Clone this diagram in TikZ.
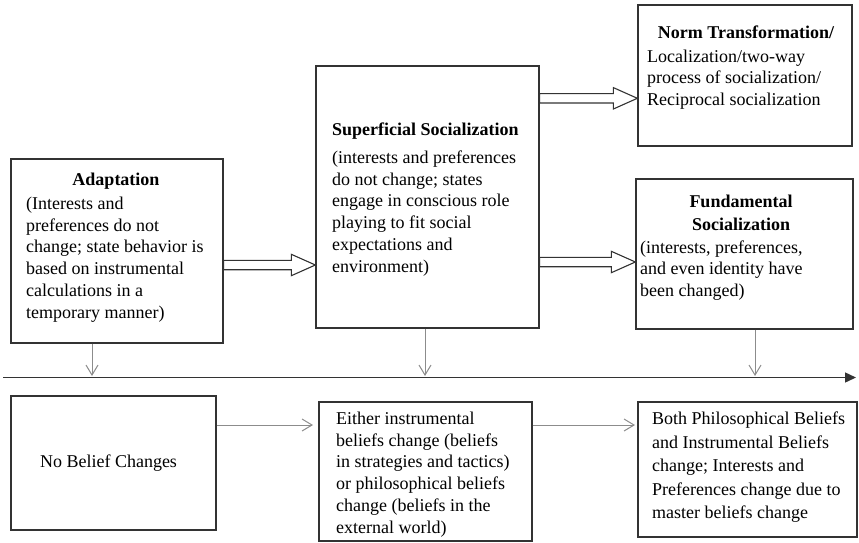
\documentclass[tikz,border=0pt]{standalone}
\usepackage{fontspec}
\setmainfont{Liberation Serif}
\usetikzlibrary{arrows.meta,calc}
\definecolor{boxc}{HTML}{333333}
\definecolor{grayc}{HTML}{8C8C8C}
\begin{document}
\begin{tikzpicture}[x=1pt,y=-1pt,
  box/.style={draw=boxc, line width=1.3pt, rectangle, inner sep=0pt},
  txt/.style={font=\fontsize{18}{21.7}\selectfont, inner sep=0pt, align=left, anchor=base west},
  ttl/.style={font=\fontsize{18}{23}\selectfont\bfseries, inner sep=0pt, align=center, anchor=base},
  grayarrow/.style={draw=grayc, line width=1pt, -{Straight Barb[length=10pt,width=12pt]}},
  timeline/.style={draw=boxc, line width=1.4pt, -{Triangle[length=11pt,width=10pt]}},
  hollow/.style={draw=boxc, line width=1.1pt, line join=miter, to path={
    ($(\tikztostart)+(0,4.7pt)$) -- ($(\tikztotarget)+(-24pt,4.7pt)$) -- ($(\tikztotarget)+(-24pt,10.7pt)$) -- (\tikztotarget) -- ($(\tikztotarget)+(-24pt,-10.7pt)$) -- ($(\tikztotarget)+(-24pt,-4.7pt)$) -- ($(\tikztostart)+(0,-4.7pt)$) -- cycle}}
]
\useasboundingbox (0,0) rectangle (859,542);

% upper boxes
\node[box, minimum width=212pt, minimum height=184pt] (adapt) at (117,251) {};
\node[box, minimum width=223pt, minimum height=262pt] (sup) at (427.5,197) {};
\node[box, minimum width=214pt, minimum height=141pt] (norm) at (745,75.5) {};
\node[box, minimum width=217pt, minimum height=150pt] (fund) at (744.5,254) {};

% lower boxes
\node[box, minimum width=205pt, minimum height=134pt] (nobel) at (113.5,463) {};
\node[box, minimum width=213pt, minimum height=139pt] (either) at (425.5,471.5) {};
\node[box, minimum width=219pt, minimum height=135pt] (both) at (747.5,469.5) {};

% texts (base anchor = baseline of the last line)
\node[ttl] (adaptT) at (116,185) {Adaptation};
\node[txt] (adaptB) at (26,318) {(Interests and\\preferences do not\\change; state behavior is\\based on instrumental\\calculations in a\\temporary manner)};

\node[ttl, anchor=base west] (supT) at (332,135) {Superficial Socialization};
\node[txt] (supB) at (332,272) {(interests and preferences\\do not change; states\\engage in conscious role\\playing to fit social\\expectations and\\environment)};

\node[ttl] (normT) at (746,38) {Norm Transformation/};
\node[txt] (normB) at (647,105.4) {Localization/two-way\\process of socialization/\\Reciprocal socialization};

\node[ttl] (fundT) at (741,230) {Fundamental\\Socialization};
\node[txt] (fundB) at (640,296.5) {(interests, preferences,\\and even identity have\\been changed)};

\node[txt, anchor=base] (nobelT) at (108.5,467) {No Belief Changes};
\node[txt] (eitherT) at (336,533) {Either instrumental\\beliefs change (beliefs\\in strategies and tactics)\\or philosophical beliefs\\change (beliefs in the\\external world)};
\node[txt, font=\fontsize{18}{23.5}\selectfont] (bothT) at (652,518.5) {Both Philosophical Beliefs\\and Instrumental Beliefs\\change; Interests and\\Preferences change due to\\master beliefs change};

% hollow arrows
\draw[hollow] (adapt.east |- 0,265) to (sup.west |- 0,265);
\draw[hollow] (sup.east |- 0,98.3) to (norm.west |- 0,98.3);
\draw[hollow] (sup.east |- 0,262) to (fund.west |- 0,262);

% timeline
\coordinate (tl0) at (3,377.5);
\coordinate (tl1) at (856,377.5);
\draw[timeline] (tl0) -- (tl1);

% gray arrows to timeline
\coordinate (d1) at (92,376);
\coordinate (d2) at (425,376);
\coordinate (d3) at (755,376);
\draw[grayarrow] (adapt.south -| d1) -- (d1);
\draw[grayarrow] (sup.south -| d2) -- (d2);
\draw[grayarrow] (fund.south -| d3) -- (d3);

% gray arrows between lower boxes
\coordinate (g1) at (313,425);
\coordinate (g2) at (635,425);
\draw[grayarrow] (nobel.east |- g1) -- (g1);
\draw[grayarrow] (either.east |- g2) -- (g2);
\end{tikzpicture}
\end{document}
